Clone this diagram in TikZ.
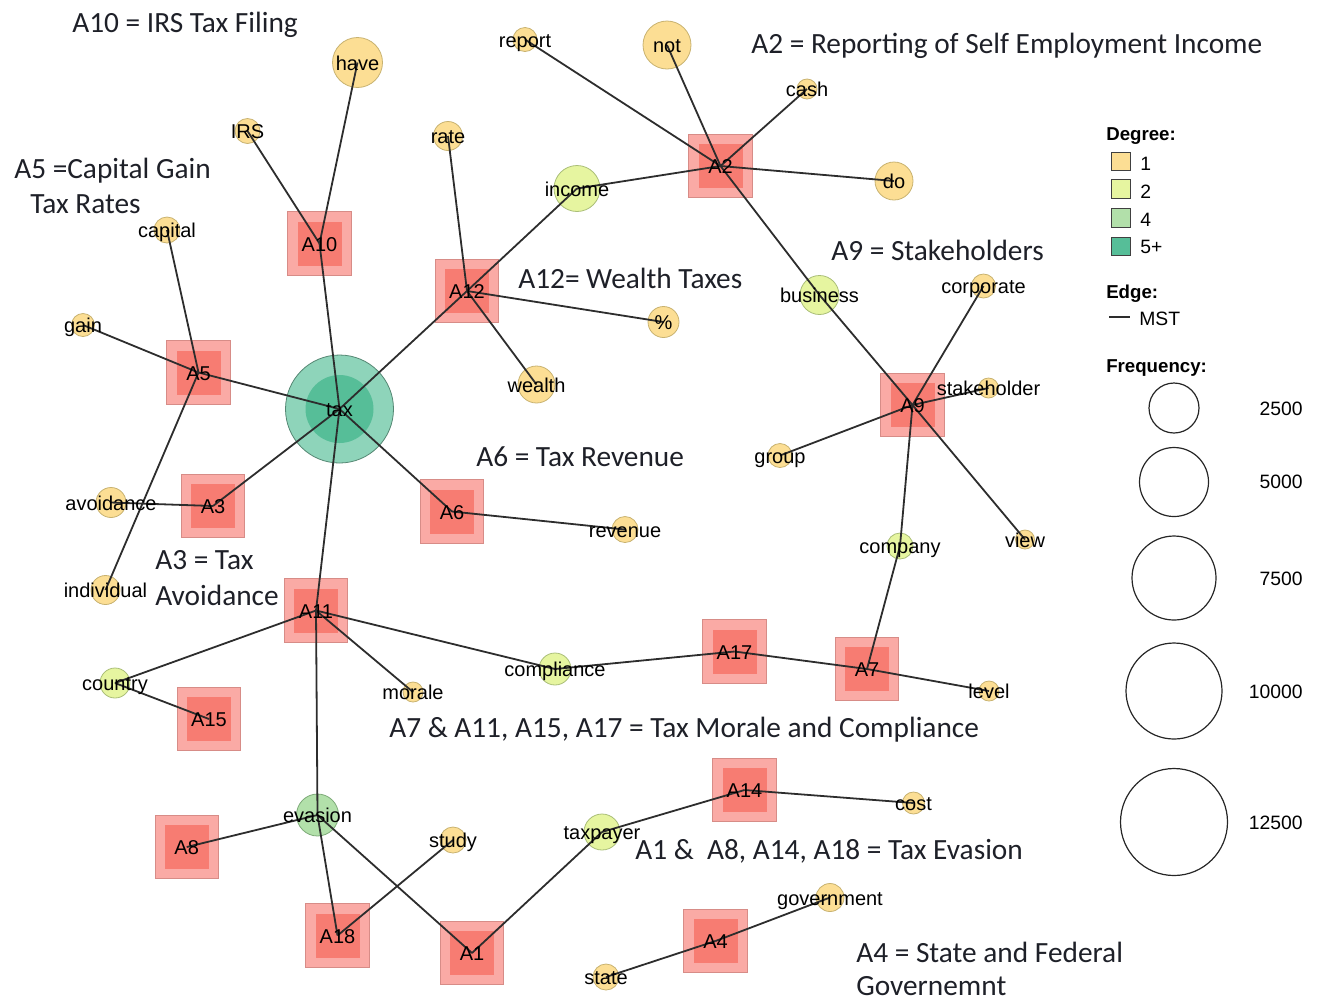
\documentclass[tikz,border=0pt]{standalone}
\usepackage{fontspec}
\setmainfont{Liberation Sans}
\newfontfamily\annotfont{Carlito}
\definecolor{cA}{RGB}{252,222,148}
\definecolor{cAe}{RGB}{200,178,112}
\definecolor{cB}{RGB}{230,245,160}
\definecolor{cBe}{RGB}{170,190,120}
\definecolor{cC}{RGB}{178,224,170}
\definecolor{cCe}{RGB}{125,170,120}
\definecolor{cD}{RGB}{86,190,152}
\definecolor{cDo}{RGB}{142,212,186}
\definecolor{cDe}{RGB}{85,135,115}
\definecolor{sqout}{RGB}{250,170,165}
\definecolor{sqin}{RGB}{247,124,114}
\definecolor{sqedge}{RGB}{215,140,135}
\definecolor{edgec}{RGB}{45,45,45}
\definecolor{anncol}{RGB}{30,32,40}
\newcommand\WN[5]{\node[#5, minimum size={2*#4*0.75pt}] (#1) at (#2,#3) {};}
\newcommand\SQ[3]{\node[sqo] (#1) at (#2,#3) {}; \node[sqi] (#1-i) at (#1) {};}
\newcommand\EG[2]{\draw[edge] (#1.center) -- (#2.center);}
\newcommand\LB[2]{\node[lbl] (#1-t) at (#1) {#2};}
\begin{document}
\begin{tikzpicture}[x=0.75pt,y=-0.75pt,
  circ/.style={circle, inner sep=0pt, line width=0.6pt},
  dA/.style={circ, fill=cA, draw=cAe},
  dB/.style={circ, fill=cB, draw=cBe},
  dC/.style={circ, fill=cC, draw=cCe},
  sqo/.style={rectangle, inner sep=0pt, minimum size=47.5pt, fill=sqout, draw=sqedge, line width=0.6pt},
  sqi/.style={rectangle, inner sep=0pt, minimum size=33pt, fill=sqin},
  edge/.style={draw=edgec, line width=1.35pt},
  lbl/.style={inner sep=0pt, text height=0.7em, text depth=0pt, yshift=-2.2pt, font=\fontsize{15}{17}\selectfont},
  ann/.style={anchor=base west, inner sep=0pt, text=anncol, font=\annotfont\fontsize{22}{26}\selectfont},
  leg/.style={anchor=base west, inner sep=0pt, font=\fontsize{14.5}{16}\selectfont},
  legb/.style={anchor=base west, inner sep=0pt, font=\bfseries\fontsize{14}{16}\selectfont},
  legr/.style={anchor=base east, inner sep=0pt, font=\fontsize{14.5}{16}\selectfont},
  legsq/.style={rectangle, inner sep=0pt, minimum size=14pt, draw=black!75, line width=0.6pt},
  fcirc/.style={circle, inner sep=0pt, draw=black!85, line width=0.9pt}]
\useasboundingbox (0,0) rectangle (1319,1001);
% ---- word nodes
\WN{have}{357.5}{62.5}{25}{dA}
\WN{IRS}{247.5}{131}{12.5}{dA}
\WN{rate}{448}{136}{14.5}{dA}
\WN{report}{525}{39.5}{12}{dA}
\WN{not}{667}{45}{24}{dA}
\WN{cash}{807}{89}{10}{dA}
\WN{do}{894}{181}{19}{dA}
\WN{capital}{167}{230}{13}{dA}
\WN{gain}{83}{325}{11.5}{dA}
\WN{pct}{663.5}{322}{15.5}{dA}
\WN{wealth}{536.5}{384.5}{18.5}{dA}
\WN{corporate}{983.5}{286}{12}{dA}
\WN{stakeholder}{988.5}{388}{10}{dA}
\WN{group}{780}{455.5}{12}{dA}
\WN{avoidance}{111}{502.5}{15}{dA}
\WN{individual}{105.5}{590}{14.5}{dA}
\WN{revenue}{625}{529.5}{13}{dA}
\WN{view}{1025}{539.5}{9.5}{dA}
\WN{morale}{413}{692}{10}{dA}
\WN{level}{989}{691}{10}{dA}
\WN{study}{453}{840}{13}{dA}
\WN{cost}{913.5}{803}{11}{dA}
\WN{government}{830}{897.5}{14}{dA}
\WN{state}{606}{977}{13}{dA}
\WN{income}{577}{188.5}{23}{dB}
\WN{business}{819.5}{295}{19.5}{dB}
\WN{company}{900}{546}{13}{dB}
\WN{country}{115}{683}{15}{dB}
\WN{compliance}{555}{669}{16}{dB}
\WN{taxpayer}{602}{832}{18}{dB}
\WN{evasion}{317.5}{815}{21}{dC}
\node[circ, fill=cDo, draw=cDe, minimum size=81pt] (tax) at (339.5,409) {};
\node[circle, inner sep=0pt, fill=cD, minimum size=51pt] (tax-i) at (tax) {};
% ---- topic squares
\SQ{A10}{319.5}{243.5}
\SQ{A12}{467}{291}
\SQ{A2}{720.5}{166}
\SQ{A5}{198.5}{372.5}
\SQ{A3}{213}{506}
\SQ{A6}{452}{511.5}
\SQ{A9}{912.5}{405}
\SQ{A11}{316}{610.5}
\SQ{A17}{734.5}{651.5}
\SQ{A7}{867}{669}
\SQ{A15}{209}{719}
\SQ{A8}{186.7}{847}
\SQ{A18}{337.5}{935.5}
\SQ{A1}{472}{953}
\SQ{A14}{744.5}{790}
\SQ{A4}{715.5}{941}
% ---- edges
\EG{have}{A10}\EG{IRS}{A10}\EG{A10}{tax}
\EG{rate}{A12}\EG{income}{A12}\EG{A12}{pct}\EG{A12}{wealth}\EG{A12}{tax}
\EG{report}{A2}\EG{not}{A2}\EG{cash}{A2}\EG{do}{A2}\EG{income}{A2}\EG{A2}{business}
\EG{capital}{A5}\EG{gain}{A5}\EG{A5}{tax}\EG{A5}{individual}
\EG{avoidance}{A3}\EG{A3}{tax}
\EG{tax}{A6}\EG{A6}{revenue}
\EG{tax}{A11}
\EG{business}{A9}\EG{corporate}{A9}\EG{stakeholder}{A9}\EG{group}{A9}\EG{view}{A9}\EG{A9}{company}
\EG{company}{A7}\EG{A7}{level}\EG{A17}{A7}
\EG{compliance}{A17}\EG{A11}{compliance}
\EG{A11}{country}\EG{country}{A15}\EG{A11}{morale}\EG{A11}{evasion}
\EG{evasion}{A8}\EG{evasion}{A18}\EG{evasion}{A1}
\EG{study}{A18}
\EG{A1}{taxpayer}\EG{taxpayer}{A14}\EG{A14}{cost}
\EG{A4}{government}\EG{A4}{state}
% ---- labels
\LB{have}{have}\LB{IRS}{IRS}\LB{rate}{rate}\LB{report}{report}\LB{not}{not}
\LB{cash}{cash}\LB{do}{do}\LB{capital}{capital}\LB{gain}{gain}\LB{pct}{\%}
\LB{wealth}{wealth}\LB{corporate}{corporate}\LB{stakeholder}{stakeholder}
\LB{group}{group}\LB{avoidance}{avoidance}\LB{individual}{individual}
\LB{revenue}{revenue}\LB{view}{view}\LB{morale}{morale}\LB{level}{level}
\LB{study}{study}\LB{cost}{cost}\LB{government}{government}\LB{state}{state}
\LB{income}{income}\LB{business}{business}\LB{company}{company}
\LB{country}{country}\LB{compliance}{compliance}\LB{taxpayer}{taxpayer}
\LB{evasion}{evasion}\LB{tax}{tax}
\LB{A10}{A10}\LB{A12}{A12}\LB{A2}{A2}\LB{A5}{A5}\LB{A3}{A3}\LB{A6}{A6}
\LB{A9}{A9}\LB{A11}{A11}\LB{A17}{A17}\LB{A7}{A7}\LB{A15}{A15}\LB{A8}{A8}
\LB{A18}{A18}\LB{A1}{A1}\LB{A14}{A14}\LB{A4}{A4}
% ---- annotations
\node[ann] (t10) at (72,32) {A10 = IRS Tax Filing};
\node[ann] (t5a) at (14,178) {A5 =Capital Gain};
\node[ann] (t5b) at (30,213) {Tax Rates};
\node[ann] (t2) at (751,53) {A2 = Reporting of Self Employment Income};
\node[ann] (t12) at (518,288) {A12= Wealth Taxes};
\node[ann] (t9) at (831,260) {A9 = Stakeholders};
\node[ann] (t6) at (476,466) {A6 = Tax Revenue};
\node[ann] (t3a) at (155,569) {A3 = Tax};
\node[ann] (t3b) at (155,605) {Avoidance};
\node[ann] (t7) at (389,737) {A7 \& A11, A15, A17 = Tax Morale and Compliance};
\node[ann] (t1) at (635,859) {A1 \&\ \ A8, A14, A18 = Tax Evasion};
\node[ann] (t4a) at (856,962) {A4 = State and Federal};
\node[ann] (t4b) at (856,995) {Governemnt};
% ---- legend
\node[legb] (degT) at (1106,140) {Degree:};
\node[legsq, fill=cA] (L1) at (1121,161.5) {};
\node[legsq, fill=cB] (L2) at (1121,189) {};
\node[legsq, fill=cC] (L4) at (1121,218) {};
\node[legsq, fill=cD] (L5) at (1121,246.5) {};
\node[leg] (L1t) at (1140,170) {1};
\node[leg] (L2t) at (1140,198) {2};
\node[leg] (L4t) at (1140,226) {4};
\node[leg] (L5t) at (1140,253) {5+};
\node[legb] (edgT) at (1106,298) {Edge:};
\coordinate (ms1) at (1109,317);
\coordinate (ms2) at (1130,317);
\draw[edgec, line width=1pt] (ms1) -- (ms2);
\node[leg] (mst) at (1139,325) {MST};
\node[legb] (frT) at (1106,372) {Frequency:};
\node[fcirc, minimum size={2*25*0.75pt}] (F1) at (1174,408) {};
\node[fcirc, minimum size={2*34.5*0.75pt}] (F2) at (1174,482) {};
\node[fcirc, minimum size={2*42*0.75pt}] (F3) at (1174,578) {};
\node[fcirc, minimum size={2*48*0.75pt}] (F4) at (1174,691) {};
\node[fcirc, minimum size={2*53.5*0.75pt}] (F5) at (1174,822) {};
\node[legr] (F1t) at (1303,415) {2500};
\node[legr] (F2t) at (1303,488) {5000};
\node[legr] (F3t) at (1303,585) {7500};
\node[legr] (F4t) at (1303,698) {10000};
\node[legr] (F5t) at (1303,829) {12500};
\end{tikzpicture}
\end{document}
